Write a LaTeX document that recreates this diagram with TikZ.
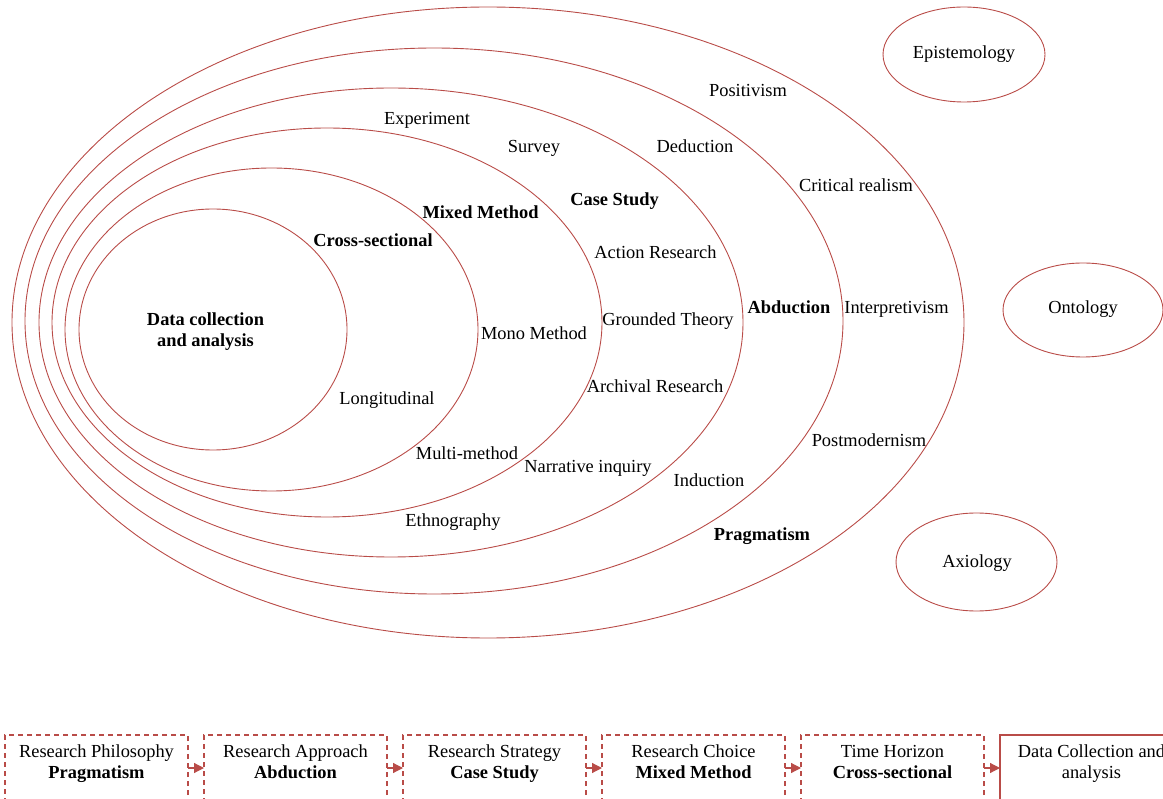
\documentclass[tikz,border=0pt]{standalone}
\usepackage{fontspec}
\setmainfont{Liberation Serif}
\usetikzlibrary{shapes.geometric,arrows.meta}
\definecolor{accent}{RGB}{185,76,72}
\begin{document}
\begin{tikzpicture}[x=1pt,y=-1pt,
  ring/.style={draw=accent, line width=0.9pt, ellipse, inner sep=0pt, outer sep=0pt},
  lbl/.style={font=\fontsize{18.4}{21}\selectfont, inner sep=0pt},
  blbl/.style={font=\fontsize{18.4}{21}\selectfont\bfseries, inner sep=0pt},
  boxline/.style={font=\fontsize{18.4}{21}\selectfont, inner sep=0pt, anchor=base},
  boxbase/.style={draw=accent, line width=1.2pt, minimum width=183pt, minimum height=66pt, inner sep=0pt, outer sep=0pt},
  stepbox/.style={boxbase, dash pattern=on 5pt off 4pt},
  lastbox/.style={boxbase},
  flow/.style={draw=accent, line width=1.2pt, -{Triangle[length=10pt,width=10pt]}}]
\clip (0,0) rectangle (1163,799);
\useasboundingbox (0,0) rectangle (1163,799);

% nested ellipses
\node[ring, minimum width=952pt, minimum height=631pt] (e1) at (488,322.5) {};
\node[ring, minimum width=818pt, minimum height=546pt] (e2) at (434,321) {};
\node[ring, minimum width=704pt, minimum height=469pt] (e3) at (391,322.5) {};
\node[ring, minimum width=550pt, minimum height=389pt] (e4) at (327,322.5) {};
\node[ring, minimum width=413pt, minimum height=323pt] (e5) at (271.5,329.5) {};
\node[ring, minimum width=268pt, minimum height=241pt] (e6) at (213,329.5) {};

% side ellipses
\node[ring, minimum width=162pt, minimum height=95pt] (epi) at (964,54.5) {};
\node[lbl] (epit) at (964,54) {Epistemology};
\node[ring, minimum width=160pt, minimum height=94pt] (ont) at (1083,310) {};
\node[lbl] (ontt) at (1083,309) {Ontology};
\node[ring, minimum width=161pt, minimum height=98pt] (axi) at (976.5,562) {};
\node[lbl] (axit) at (977,563) {Axiology};

% philosophy ring
\node[lbl] (l1) at (748,91) {Positivism};
\node[lbl] (l2) at (856,185) {Critical realism};
\node[lbl] (l3) at (896.5,309) {Interpretivism};
\node[lbl] (l4) at (869,440) {Postmodernism};
\node[blbl] (l5) at (762,536) {Pragmatism};
% approach ring
\node[lbl] (l6) at (695,146) {Deduction};
\node[blbl] (l7) at (789,307) {Abduction};
\node[lbl] (l8) at (709,480) {Induction};
% strategy ring
\node[lbl] (l9) at (427,120) {Experiment};
\node[lbl] (l10) at (534,148) {Survey};
\node[blbl] (l11) at (614.5,201) {Case Study};
\node[lbl] (l12) at (655.5,252) {Action Research};
\node[lbl] (l13) at (668,321) {Grounded Theory};
\node[lbl] (l14) at (655,386) {Archival Research};
\node[lbl] (l15) at (588,468) {Narrative inquiry};
\node[lbl] (l16) at (453,522) {Ethnography};
% choice ring
\node[blbl] (l17) at (480.5,212) {Mixed Method};
\node[lbl] (l18) at (534,333) {Mono Method};
\node[lbl] (l19) at (467,453) {Multi-method};
% time horizon ring
\node[blbl] (l20) at (373,240) {Cross-sectional};
\node[lbl] (l21) at (387,400) {Longitudinal};
% core
\node[blbl, align=center] (l22) at (205.5,332) {Data collection\\and analysis};

% bottom flow
\node[stepbox] (b1) at (96.5,768) {};
\node[stepbox] (b2) at (295.5,768) {};
\node[stepbox] (b3) at (494.5,768) {};
\node[stepbox] (b4) at (693.5,768) {};
\node[stepbox] (b5) at (892.5,768) {};
\node[lastbox] (b6) at (1091.5,768) {};

\node[boxline] (t1a) at (96.5,757) {Research Philosophy};
\node[boxline] (t1b) at (96.5,778) {\bfseries Pragmatism};
\node[boxline] (t2a) at (295.5,757) {Research Approach};
\node[boxline] (t2b) at (295.5,778) {\bfseries Abduction};
\node[boxline] (t3a) at (494.5,757) {Research Strategy};
\node[boxline] (t3b) at (494.5,778) {\bfseries Case Study};
\node[boxline] (t4a) at (693.5,757) {Research Choice};
\node[boxline] (t4b) at (693.5,778) {\bfseries Mixed Method};
\node[boxline] (t5a) at (892.5,757) {Time Horizon};
\node[boxline] (t5b) at (892.5,778) {\bfseries Cross-sectional};
\node[boxline] (t6a) at (1091.5,757) {Data Collection and};
\node[boxline] (t6b) at (1091.5,778) {analysis};

\draw[flow] (b1.east) -- (b2.west);
\draw[flow] (b2.east) -- (b3.west);
\draw[flow] (b3.east) -- (b4.west);
\draw[flow] (b4.east) -- (b5.west);
\draw[flow] (b5.east) -- (b6.west);
\end{tikzpicture}
\end{document}
